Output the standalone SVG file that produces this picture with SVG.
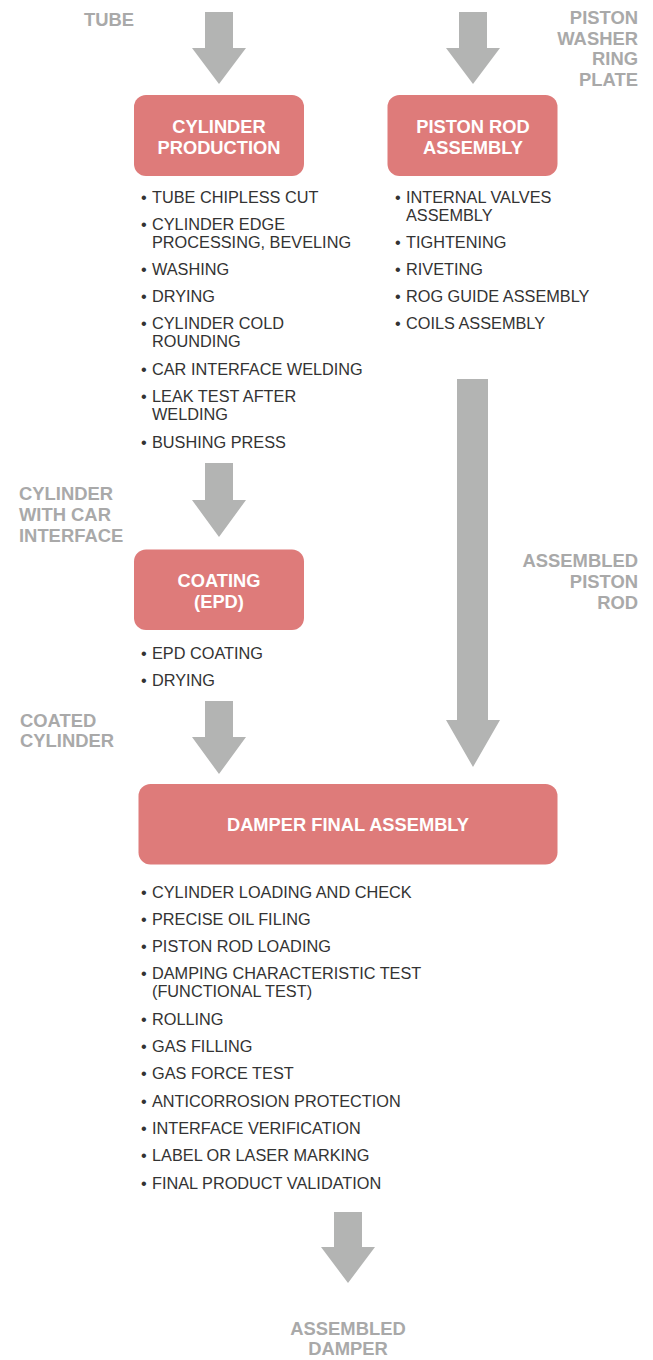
<svg xmlns="http://www.w3.org/2000/svg" width="653" height="1360" viewBox="0 0 653 1360">
<style>
.arrow{fill:#b3b4b3}
.box{fill:#de7b7a}
.title{font-family:"Liberation Sans",Arial,sans-serif;font-weight:bold;font-size:18.3px;fill:#ffffff;text-anchor:middle}
.lbl{font-family:"Liberation Sans",Arial,sans-serif;font-weight:bold;font-size:18.4px;fill:#a9a9a9}
.item{font-family:"Liberation Sans",Arial,sans-serif;font-size:16.3px;fill:#333333}
.r{text-anchor:end}
.m{text-anchor:middle}
</style>
<rect width="653" height="1360" fill="#ffffff"/>
<g id="connectors">
<polygon class="arrow" points="205,12 233,12 233,48 246,48 219,84 192,48 205,48"/>
<polygon class="arrow" points="459,12 487,12 487,48 500,48 473,84 446,48 459,48"/>
<polygon class="arrow" points="205,463 233,463 233,500 246,500 219,537 192,500 205,500"/>
<polygon class="arrow" points="205,701 233,701 233,737 246,737 219,774 192,737 205,737"/>
<polygon class="arrow" points="457,379 488,379 488,720 500,720 473,767 446,720 457,720"/>
<polygon class="arrow" points="334,1212 362,1212 362,1247 375,1247 348,1283 321,1247 334,1247"/>
</g>
<g id="labels">
<text class="lbl r" x="134" y="26">TUBE</text>
<text class="lbl r" x="638" y="24">PISTON</text>
<text class="lbl r" x="638" y="44.5">WASHER</text>
<text class="lbl r" x="638" y="65">RING</text>
<text class="lbl r" x="638" y="85.5">PLATE</text>
<text class="lbl" x="19" y="500">CYLINDER</text>
<text class="lbl" x="19" y="521">WITH CAR</text>
<text class="lbl" x="19" y="541.5">INTERFACE</text>
<text class="lbl" x="20" y="726.5">COATED</text>
<text class="lbl" x="20" y="746.5">CYLINDER</text>
<text class="lbl r" x="638" y="566.5">ASSEMBLED</text>
<text class="lbl r" x="638" y="588">PISTON</text>
<text class="lbl r" x="638" y="608.5">ROD</text>
<text class="lbl m" x="348" y="1335">ASSEMBLED</text>
<text class="lbl m" x="348" y="1355">DAMPER</text>
</g>
<g id="cylinder-production">
<rect class="box" x="134" y="95" width="170" height="81" rx="12"/>
<text class="title" x="219" y="133">CYLINDER</text>
<text class="title" x="219" y="154">PRODUCTION</text>
<g class="item">
<text x="141" y="202.5">•</text><text x="152" y="202.5">TUBE CHIPLESS CUT</text>
<text x="141" y="229.5">•</text><text x="152" y="229.5">CYLINDER EDGE</text><text x="152" y="247.5">PROCESSING, BEVELING</text>
<text x="141" y="275">•</text><text x="152" y="275">WASHING</text>
<text x="141" y="302">•</text><text x="152" y="302">DRYING</text>
<text x="141" y="329">•</text><text x="152" y="329">CYLINDER COLD</text><text x="152" y="347">ROUNDING</text>
<text x="141" y="374.5">•</text><text x="152" y="374.5">CAR INTERFACE WELDING</text>
<text x="141" y="402">•</text><text x="152" y="402">LEAK TEST AFTER</text><text x="152" y="420">WELDING</text>
<text x="141" y="447.5">•</text><text x="152" y="447.5">BUSHING PRESS</text>
</g>
</g>
<g id="piston-rod-assembly">
<rect class="box" x="387.5" y="95" width="170" height="81" rx="12"/>
<text class="title" x="473" y="133">PISTON ROD</text>
<text class="title" x="473" y="154">ASSEMBLY</text>
<g class="item">
<text x="395" y="202.5">•</text><text x="406" y="202.5">INTERNAL VALVES</text><text x="406" y="220.5">ASSEMBLY</text>
<text x="395" y="247.5">•</text><text x="406" y="247.5">TIGHTENING</text>
<text x="395" y="275">•</text><text x="406" y="275">RIVETING</text>
<text x="395" y="302">•</text><text x="406" y="302">ROG GUIDE ASSEMBLY</text>
<text x="395" y="329">•</text><text x="406" y="329">COILS ASSEMBLY</text>
</g>
</g>
<g id="coating">
<rect class="box" x="134" y="549.5" width="170" height="80.5" rx="12"/>
<text class="title" x="219" y="586.5">COATING</text>
<text class="title" x="219" y="608">(EPD)</text>
<g class="item">
<text x="141" y="659">•</text><text x="152" y="659">EPD COATING</text>
<text x="141" y="686">•</text><text x="152" y="686">DRYING</text>
</g>
</g>
<g id="damper-final-assembly">
<rect class="box" x="138.5" y="784" width="419" height="80.5" rx="12"/>
<text class="title" x="348" y="831">DAMPER FINAL ASSEMBLY</text>
<g class="item">
<text x="141" y="897.5">•</text><text x="152" y="897.5">CYLINDER LOADING AND CHECK</text>
<text x="141" y="924.5">•</text><text x="152" y="924.5">PRECISE OIL FILING</text>
<text x="141" y="951.5">•</text><text x="152" y="951.5">PISTON ROD LOADING</text>
<text x="141" y="979">•</text><text x="152" y="979">DAMPING CHARACTERISTIC TEST</text><text x="152" y="997">(FUNCTIONAL TEST)</text>
<text x="141" y="1025">•</text><text x="152" y="1025">ROLLING</text>
<text x="141" y="1052">•</text><text x="152" y="1052">GAS FILLING</text>
<text x="141" y="1079">•</text><text x="152" y="1079">GAS FORCE TEST</text>
<text x="141" y="1106.5">•</text><text x="152" y="1106.5">ANTICORROSION PROTECTION</text>
<text x="141" y="1133.5">•</text><text x="152" y="1133.5">INTERFACE VERIFICATION</text>
<text x="141" y="1161">•</text><text x="152" y="1161">LABEL OR LASER MARKING</text>
<text x="141" y="1188.5">•</text><text x="152" y="1188.5">FINAL PRODUCT VALIDATION</text>
</g>
</g>
</svg>
